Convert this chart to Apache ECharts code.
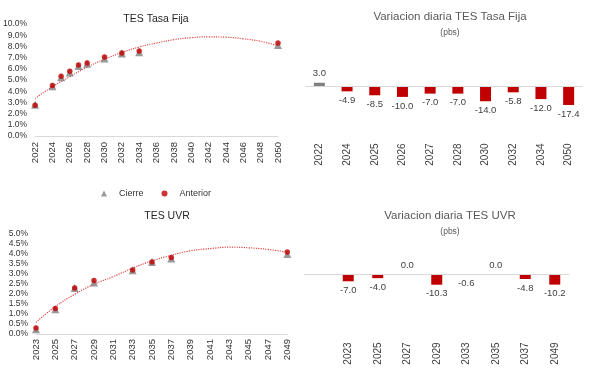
<!DOCTYPE html>
<html>
<head>
<meta charset="utf-8">
<script src="https://cdn.jsdelivr.net/npm/echarts@6/dist/echarts.min.js"></script>
<style>html,body{margin:0;padding:0;background:#fff}#c{width:590px;height:371px}</style>
</head>
<body>
<div id="c"></div>
<script>
// ---- TES Tasa Fija (curve) ----
const tfYears     = [2022, 2024, 2025, 2026, 2027, 2028, 2030, 2032, 2034, 2050];
const tfCierre    = [2.78, 4.45, 5.25, 5.68, 6.26, 6.45, 6.91, 7.36, 7.48, 8.13];
const tfAnterior  = [2.75, 4.50, 5.33, 5.78, 6.33, 6.52, 7.05, 7.42, 7.60, 8.30];
const tfTrendYears = [2022, 2024, 2026, 2028, 2030, 2032, 2034, 2036, 2038, 2040, 2042, 2044, 2046, 2048, 2050];
const tfTrend      = [3.35, 4.40, 5.30, 6.15, 6.85, 7.45, 7.95, 8.30, 8.60, 8.78, 8.85, 8.82, 8.68, 8.45, 8.05];

// ---- TES UVR (curve) ----
const uvrYears    = [2023, 2025, 2027, 2029, 2033, 2035, 2037, 2049];
const uvrCierre   = [0.23, 1.23, 2.28, 2.56, 3.17, 3.57, 3.75, 3.97];
const uvrAnterior = [0.30, 1.27, 2.28, 2.66, 3.18, 3.57, 3.80, 4.07];
const uvrTrendYears = [2023, 2025, 2027, 2029, 2031, 2033, 2035, 2037, 2039, 2041, 2043, 2045, 2047, 2049];
const uvrTrend      = [0.58, 1.36, 1.97, 2.47, 2.85, 3.27, 3.63, 3.91, 4.13, 4.24, 4.31, 4.28, 4.20, 4.06];

// ---- Daily change (pbs) ----
const tfBarCats = ['2022', '2024', '2025', '2026', '2027', '2028', '2030', '2032', '2034', '2050'];
const tfBarVals = [3.0, -4.9, -8.5, -10.0, -7.0, -7.0, -14.0, -5.8, -12.0, -17.4];
const uvrBarCats = ['2023', '2025', '2027', '2029', '2033', '2035', '2037', '2049'];
const uvrBarVals = [-7.0, -4.0, 0.0, -10.3, -0.6, 0.0, -4.8, -10.2];

// tick settings
const tfTicksX = { min: 2022, max: 2050, interval: 2 };
const uvrTicksX = { min: 2023, max: 2049, interval: 2 };
const tfTicksY = { min: 0, max: 10, interval: 1 };
const uvrTicksY = { min: 0, max: 5, interval: 0.5 };

const pairs = (xs, ys) => xs.map((x, i) => [x, ys[i]]);
const RED = '#c00000', GRAY = '#808080', TXT = '#333333', AX = '#d9d9d9';
const FONT = 'Liberation Sans';

const chart = echarts.init(document.getElementById('c'), null, { renderer: 'canvas' });

function valX(gi, t, margin) {
  return {
    type: 'value', gridIndex: gi, min: t.min, max: t.max, interval: t.interval,
    axisLine: { show: true, lineStyle: { color: AX } }, axisTick: { show: false },
    splitLine: { show: false },
    axisLabel: { rotate: 90, fontSize: 9.5, color: TXT, fontFamily: FONT, margin: margin, formatter: v => String(v) }
  };
}
function valY(gi, t) {
  return {
    type: 'value', gridIndex: gi, min: t.min, max: t.max, interval: t.interval,
    axisLine: { show: false }, axisTick: { show: false }, splitLine: { show: false },
    axisLabel: { fontSize: 8.5, color: TXT, fontFamily: FONT, margin: 8, formatter: v => v.toFixed(1) + '%' }
  };
}
function catX(gi, cats, margin) {
  return {
    type: 'category', gridIndex: gi, data: cats, position: 'bottom',
    axisLine: { show: false }, axisTick: { show: false },
    axisLabel: { rotate: 90, fontSize: 10, color: '#404040', fontFamily: FONT, margin: margin, interval: 0 }
  };
}
function barY(gi, min, max) {
  return { type: 'value', gridIndex: gi, min: min, max: max, show: false, splitLine: { show: false } };
}
function barSeries(xi, vals) {
  return {
    type: 'bar', xAxisIndex: xi, yAxisIndex: xi, barWidth: 11,
    data: vals.map(v => (v === null ? null : {
      value: v,
      itemStyle: { color: v > 0 ? GRAY : RED },
      label: { position: v < 0 ? 'bottom' : 'top' }
    })),
    label: { show: true, fontSize: 9.5, color: '#404040', fontFamily: FONT, distance: 4,
      formatter: p => (p.value === null || p.value === undefined) ? '' : Number(p.value).toFixed(1) },
    markLine: { silent: true, symbol: 'none', label: { show: false },
      lineStyle: { color: AX, type: 'solid', width: 1 }, data: [{ yAxis: 0 }] },
    z: 3
  };
}

const option = {
  animation: false,
  backgroundColor: '#ffffff',
  textStyle: { fontFamily: FONT },
  title: [
    { text: 'TES Tasa Fija', left: 151, top: 9, textAlign: 'center',
      textStyle: { fontSize: 10.5, fontWeight: 'normal', color: '#262626', fontFamily: FONT } },
    { text: 'TES UVR', left: 162, top: 206, textAlign: 'center',
      textStyle: { fontSize: 10.5, fontWeight: 'normal', color: '#262626', fontFamily: FONT } },
    { text: 'Variacion diaria TES Tasa Fija', subtext: '(pbs)', left: 445, top: 6, textAlign: 'center', itemGap: 5,
      textStyle: { fontSize: 11.5, fontWeight: 'normal', color: '#595959', fontFamily: FONT } ,
      subtextStyle: { fontSize: 8.5, color: '#595959', fontFamily: FONT } },
    { text: 'Variacion diaria TES UVR', subtext: '(pbs)', left: 445, top: 205, textAlign: 'center', itemGap: 5,
      textStyle: { fontSize: 11.5, fontWeight: 'normal', color: '#595959', fontFamily: FONT },
      subtextStyle: { fontSize: 8.5, color: '#595959', fontFamily: FONT } }
  ],
  legend: {
    data: ['Cierre', 'Anterior'], left: 96, top: 184, itemWidth: 6, itemHeight: 6, itemGap: 18,
    textStyle: { fontSize: 9, color: TXT, fontFamily: FONT, padding: [0, 0, 0, 7] }
  },
  grid: [
    { left: 35, top: 24, width: 243, height: 112 },
    { left: 36, top: 233.3, width: 251.3, height: 100.7 },
    { left: 305.5, top: 42.4, width: 277, height: 98.1 },
    { left: 304, top: 242.8, width: 265.5, height: 93.6 }
  ],
  xAxis: [
    valX(0, tfTicksX, 6),
    valX(1, uvrTicksX, 5),
    catX(2, tfBarCats, 3),
    catX(3, [''].concat(uvrBarCats), 6)
  ],
  yAxis: [
    valY(0, tfTicksY),
    valY(1, uvrTicksY),
    barY(2, -50, 40),
    barY(3, -60, 30)
  ],
  series: [
    { type: 'line', xAxisIndex: 0, yAxisIndex: 0, data: pairs(tfTrendYears, tfTrend), smooth: true,
      showSymbol: false, lineStyle: { color: '#e04848', width: 1.2, type: 'dotted' }, z: 1, silent: true },
    { name: 'Cierre', type: 'scatter', xAxisIndex: 0, yAxisIndex: 0, data: pairs(tfYears, tfCierre),
      symbol: 'triangle', symbolSize: 8, itemStyle: { color: GRAY }, z: 2 },
    { name: 'Anterior', type: 'scatter', xAxisIndex: 0, yAxisIndex: 0, data: pairs(tfYears, tfAnterior),
      symbol: 'circle', symbolSize: 5.5, itemStyle: { color: RED }, z: 3 },

    { type: 'line', xAxisIndex: 1, yAxisIndex: 1, data: pairs(uvrTrendYears, uvrTrend), smooth: true,
      showSymbol: false, lineStyle: { color: '#e04848', width: 1.2, type: 'dotted' }, z: 1, silent: true },
    { name: 'Cierre', type: 'scatter', xAxisIndex: 1, yAxisIndex: 1, data: pairs(uvrYears, uvrCierre),
      symbol: 'triangle', symbolSize: 8, itemStyle: { color: GRAY }, z: 2 },
    { name: 'Anterior', type: 'scatter', xAxisIndex: 1, yAxisIndex: 1, data: pairs(uvrYears, uvrAnterior),
      symbol: 'circle', symbolSize: 5.5, itemStyle: { color: RED }, z: 3 },

    barSeries(2, tfBarVals),
    barSeries(3, [null].concat(uvrBarVals))
  ]
};
chart.setOption(option);
</script>
</body>
</html>
